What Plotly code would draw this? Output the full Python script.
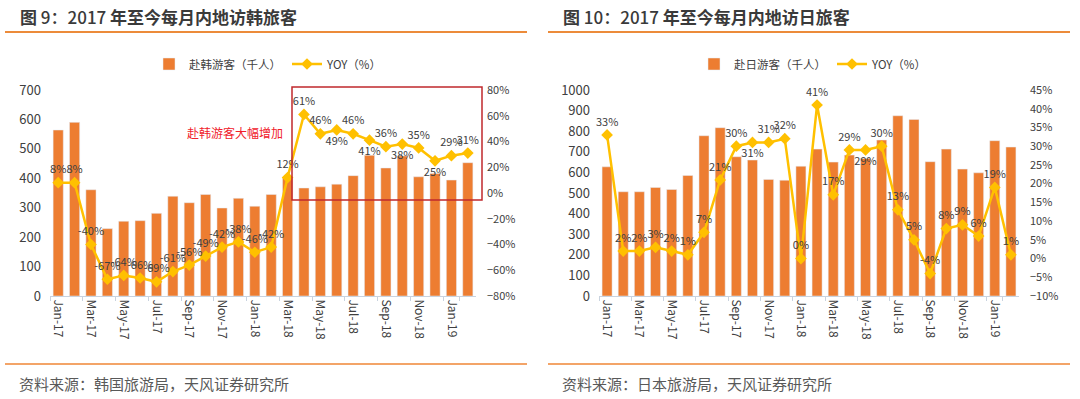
import plotly.graph_objects as go

months = ["Jan-17", "Feb-17", "Mar-17", "Apr-17", "May-17", "Jun-17", "Jul-17", "Aug-17",
          "Sep-17", "Oct-17", "Nov-17", "Dec-17", "Jan-18", "Feb-18", "Mar-18", "Apr-18",
          "May-18", "Jun-18", "Jul-18", "Aug-18", "Sep-18", "Oct-18", "Nov-18", "Dec-18",
          "Jan-19", "Feb-19"]
tick_months = months[::2]

korea_visitors = [564, 590, 361, 229, 254, 256, 281, 339, 317, 345, 299, 332, 305, 345,
                  400, 367, 371, 380, 409, 478, 435, 476, 405, 416, 394, 453]
korea_yoy = [8, 8, -40, -67, -64, -66, -69, -61, -56, -49, -42, -38, -46, -42,
             12, 61, 46, 49, 46, 41, 36, 38, 35, 25, 29, 31]
korea_label_pos = ["top center"] * 26
for i in (17, 19, 21, 23):
    korea_label_pos[i] = "bottom center"

japan_visitors = [627, 506, 506, 527, 517, 585, 778, 817, 676, 660, 566, 562, 630, 713,
                  650, 684, 668, 757, 875, 857, 652, 713, 616, 598, 754, 723]
japan_yoy = [33, 2, 2, 3, 2, 1, 7, 21, 30, 31, 31, 32, 0, 41,
             17, 29, 29, 30, 13, 5, -4, 8, 9, 6, 19, 1]
japan_label_pos = ["top center"] * 26
for i in (9, 16):
    japan_label_pos[i] = "bottom center"

BAR = "#ED7D31"
LINE = "#FFC000"
TXT = "#404040"
FONT = "Noto Sans CJK SC, Noto Sans, sans-serif"
W, H = 1080, 399

def px(x):
    return x / W

def py(y):
    return 1 - y / H

fig = go.Figure()

fig.add_trace(go.Bar(x=months, y=korea_visitors, name="赴韩游客（千人）", marker_color=BAR,
                     xaxis="x", yaxis="y", legend="legend"))
fig.add_trace(go.Scatter(x=months, y=korea_yoy, name="YOY（%）", mode="lines+markers+text",
                         line=dict(color=LINE, width=2.5),
                         marker=dict(symbol="diamond", size=9, color=LINE),
                         text=[f"{v}%" for v in korea_yoy], textposition=korea_label_pos,
                         textfont=dict(size=11, color=TXT, family=FONT), cliponaxis=False,
                         xaxis="x", yaxis="y2", legend="legend"))

fig.add_trace(go.Bar(x=months, y=japan_visitors, name="赴日游客（千人）", marker_color=BAR,
                     xaxis="x2", yaxis="y3", legend="legend2"))
fig.add_trace(go.Scatter(x=months, y=japan_yoy, name="YOY（%）", mode="lines+markers+text",
                         line=dict(color=LINE, width=2.5),
                         marker=dict(symbol="diamond", size=9, color=LINE),
                         text=[f"{v}%" for v in japan_yoy], textposition=japan_label_pos,
                         textfont=dict(size=11, color=TXT, family=FONT), cliponaxis=False,
                         xaxis="x2", yaxis="y4", legend="legend2"))

ydom = [py(296), py(90)]
xcommon = dict(type="category", categoryorder="array", categoryarray=months,
               range=[-0.5, len(months) - 0.5], autorange=False,
               tickmode="array", tickvals=tick_months, ticktext=tick_months,
               tickangle=90, tickfont=dict(size=12, color=TXT, family=FONT),
               showline=True, linecolor="#C9D3DF", linewidth=1,
               ticks="outside", ticklen=4, tickcolor="#C9D3DF", tickson="boundaries",
               showgrid=False, zeroline=False, fixedrange=True)
yleft = dict(showgrid=False, zeroline=False, showline=False, ticks="",
             tickfont=dict(size=13, color=TXT, family=FONT), ticklabelstandoff=8)
yright = dict(showgrid=False, zeroline=False, showline=False, ticks="",
              tickfont=dict(size=11, color=TXT, family=FONT), ticksuffix="%",
              ticklabelstandoff=10, side="right")

legend_common = dict(orientation="h", xanchor="left", yanchor="middle",
                     font=dict(size=11.5, color=TXT, family=FONT), bgcolor="rgba(0,0,0,0)",
                     itemwidth=30, tracegroupgap=0, entrywidth=93, entrywidthmode="pixels")

fig.update_layout(
    width=W, height=H,
    margin=dict(l=0, r=0, t=0, b=0, autoexpand=False),
    paper_bgcolor="white", plot_bgcolor="white",
    bargap=0.38,
    font=dict(family=FONT, color=TXT),
    xaxis=dict(domain=[px(50), px(476)], anchor="y", **xcommon),
    yaxis=dict(domain=ydom, range=[0, 700], dtick=100, anchor="x", **yleft),
    yaxis2=dict(range=[-80, 80], dtick=20, overlaying="y", anchor="x", **yright),
    xaxis2=dict(domain=[px(599), px(1019)], anchor="y3", **xcommon),
    yaxis3=dict(domain=ydom, range=[0, 1000], dtick=100, anchor="x2", **yleft),
    yaxis4=dict(range=[-10, 45], dtick=5, overlaying="y3", anchor="x2", **yright),
    legend=dict(x=px(149), y=py(64), **legend_common),
    legend2=dict(x=px(694), y=py(64), **legend_common),
    showlegend=True,
)

shapes = [
    dict(type="line", xref="paper", yref="paper", x0=px(5), x1=px(527), y0=py(32), y1=py(32),
         line=dict(color="#EC8B3A", width=2)),
    dict(type="line", xref="paper", yref="paper", x0=px(548), x1=px(1070), y0=py(32), y1=py(32),
         line=dict(color="#EC8B3A", width=2)),
    dict(type="line", xref="paper", yref="paper", x0=px(5), x1=px(527), y0=py(364), y1=py(364),
         line=dict(color="#F3A468", width=2)),
    dict(type="line", xref="paper", yref="paper", x0=px(548), x1=px(1070), y0=py(364), y1=py(364),
         line=dict(color="#F3A468", width=2)),
    dict(type="rect", xref="paper", yref="paper", x0=px(292), x1=px(482), y0=py(200), y1=py(87),
         line=dict(color="#C0282D", width=1.5)),
]
fig.update_layout(shapes=shapes)

TITLE_FONT = "Noto Sans CJK SC"
MID = '<span style="font-weight:500">'
annotations = [
    dict(text=f"<b>图</b> {MID}9：2017</span> <b>年至今每月内地访韩旅客</b>", xref="paper", yref="paper",
         x=px(18), y=py(17), xanchor="left", yanchor="middle", showarrow=False,
         font=dict(size=17, color="#3A3A3A", family=TITLE_FONT)),
    dict(text=f"<b>图</b> {MID}10：2017</span> <b>年至今每月内地访日旅客</b>", xref="paper", yref="paper",
         x=px(561), y=py(17), xanchor="left", yanchor="middle", showarrow=False,
         font=dict(size=17, color="#3A3A3A", family=TITLE_FONT)),
    dict(text="资料来源：韩国旅游局，天风证券研究所", xref="paper", yref="paper",
         x=px(17), y=py(383), xanchor="left", yanchor="middle", showarrow=False,
         font=dict(size=15, color="#595959", family=FONT)),
    dict(text="资料来源：日本旅游局，天风证券研究所", xref="paper", yref="paper",
         x=px(560), y=py(383), xanchor="left", yanchor="middle", showarrow=False,
         font=dict(size=15, color="#595959", family=FONT)),
    dict(text="赴韩游客大幅增加", xref="paper", yref="paper",
         x=px(235), y=py(132), xanchor="center", yanchor="middle", showarrow=False,
         font=dict(size=12, color="#F0202A", family=FONT)),
]
fig.update_layout(annotations=annotations)

fig.write_html("out.html", config={"displayModeBar": False},
               post_script="document.body.style.margin='0';document.body.style.overflow='hidden';")
